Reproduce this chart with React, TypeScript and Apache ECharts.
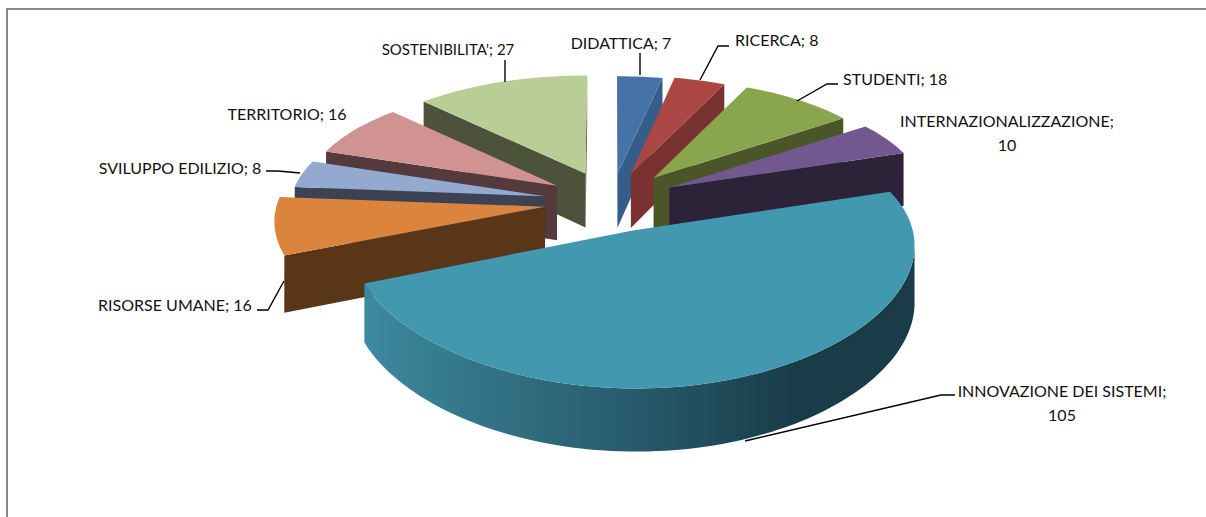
import React, { useEffect, useRef } from "react";
import * as echarts from "echarts";

const categories = ["DIDATTICA", "RICERCA", "STUDENTI", "INTERNAZIONALIZZAZIONE", "INNOVAZIONE DEI SISTEMI", "RISORSE UMANE", "SVILUPPO EDILIZIO", "TERRITORIO", "SOSTENIBILITA'"];
const values = [7, 8, 18, 10, 105, 16, 8, 16, 27];
const topColors = ["#4572A7", "#AA4643", "#89A54E", "#71588F", "#4198AF", "#DB843D", "#93A9CF", "#D19392", "#B9CD96"];
const wallColors = ["#365D87", "#7A3230", "#4A5528", "#2D2338", "#1A3C49", "#5A3618", "#3A4254", "#553A3D", "#4D533A"];
const explode = [0.2, 0.2, 0.2, 0.2, 0.3, 0.2, 0.2, 0.2, 0.2];
const drawOrder = [8, 0, 1, 2, 3, 7, 6, 5, 4];

// per-slice adjustment of the projected shape: [x scale about the apex, x shift, y shift]
const sliceFit = [
  [0.92, 8, 2], [0.91, 10, 1], [0.918, 15, 1], [0.947, 17, 3], [1, 0, 0],
  [0.985, -5, 8], [0.935, -6, 6], [0.935, -1, 3], [0.92, 2, 0],
];

type Label = { lines: string[]; x: number; y: number; align: string; size?: number; leader?: number[][] };
const labels: Label[] = [
  { lines: ["DIDATTICA; 7"], x: 621, y: 42, align: "center", leader: [[640, 53], [640, 75]] },
  { lines: ["RICERCA; 8"], x: 735, y: 39, align: "left", leader: [[729, 46], [718, 46], [700, 80]] },
  { lines: ["STUDENTI; 18"], x: 843, y: 78, align: "left", leader: [[838, 84], [827, 84], [797, 101]] },
  { lines: ["INTERNAZIONALIZZAZIONE;", "10"], x: 1007, y: 120, align: "center" },
  { lines: ["INNOVAZIONE DEI SISTEMI;", "105"], x: 1062, y: 390, align: "center", leader: [[955, 395], [941, 395], [745, 441]] },
  { lines: ["RISORSE UMANE; 16"], x: 175, y: 304, align: "center", leader: [[257, 310], [268, 310], [284, 281]] },
  { lines: ["SVILUPPO EDILIZIO; 8"], x: 180, y: 167, align: "center", leader: [[266, 171], [278, 171], [300, 173]] },
  { lines: ["TERRITORIO; 16"], x: 287, y: 113, align: "center" },
  { lines: ["SOSTENIBILITA'; 27"], x: 448, y: 49, align: "center", size: 15, leader: [[505, 60], [505, 82]] },
];

const CX = 604, CY = 245, S = 272, T = 128, H = 50, PX = 0.1, PY = 0.16, WALL = 55, PW = 0.1;
const BIG_SLICE = 4;
const total = values.reduce((a, b) => a + b, 0);
const starts: number[] = [];
values.reduce((acc, v, i) => { starts[i] = acc; return acc + v; }, 0);

function project(x: number, y: number, z: number) {
  return [CX + (S * x) / (1 + PX * y), CY - (T * y + H) / (1 + PY * y) + ((1 - z) * WALL) / (1 + PW * y)];
}

function renderSlice(params: any, api: any) {
  const i = api.value(1) as number;
  const a0 = (starts[i] / total) * Math.PI * 2;
  const a1 = ((starts[i] + values[i]) / total) * Math.PI * 2;
  const mid = (a0 + a1) / 2;
  const ox = explode[i] * Math.sin(mid), oy = explode[i] * Math.cos(mid);
  const n = Math.max(6, Math.ceil((a1 - a0) / 0.03));
  const [kx, dx, dy] = sliceFit[i];
  const rawApexX = project(ox, oy, 1)[0];
  const fit = (p: number[]) => [rawApexX + kx * (p[0] - rawApexX) + dx, p[1] + dy];
  const at = (a: number, z: number) => fit(project(ox + Math.sin(a), oy + Math.cos(a), z));
  const apexT = fit(project(ox, oy, 1)), apexB = fit(project(ox, oy, 0));
  const children: any[] = [];
  const wallFill: any = {
    type: "linear", x: 0, y: 0, x2: 1, y2: 0, colorStops: [
      { offset: 0, color: "#3D8A9F" }, { offset: 0.2, color: "#337587" },
      { offset: 0.5, color: "#275A6C" }, { offset: 0.78, color: "#193C49" }, { offset: 1, color: "#1A3C49" } ],
  };

  const startT = at(a0, 1), startB = at(a0, 0), endT = at(a1, 1), endB = at(a1, 0);
  if (startT[0] < apexT[0]) children.push({ type: "polygon", silent: true, shape: { points: [apexT, startT, startB, apexB] }, style: { fill: wallColors[i] } });
  if (endT[0] > apexT[0]) children.push({ type: "polygon", silent: true, shape: { points: [apexT, endT, endB, apexB] }, style: { fill: wallColors[i] } });

  const upper: number[][] = [], lower: number[][] = [], top: number[][] = [apexT];
  for (let k = 0; k <= n; k++) {
    const a = a0 + ((a1 - a0) * k) / n;
    const t = at(a, 1);
    top.push(t);
    if (k < n && at(a + (a1 - a0) / n, 1)[0] < t[0] + 0.001 || (k === n && at(a - (a1 - a0) / n, 1)[0] > t[0])) {
      upper.push(t);
      lower.unshift(at(a, 0));
    }
  }
  if (i === BIG_SLICE && upper.length > 1) children.push({ type: "polygon", silent: true, shape: { points: [...upper, ...lower] }, style: { fill: wallFill } });
  children.push({ type: "polygon", silent: true, shape: { points: top }, style: { fill: topColors[i] } });

  const lab = labels[i];
  if (lab.leader) children.push({ type: "polyline", silent: true, z2: 50, shape: { points: lab.leader }, style: { fill: "none", stroke: "#000", lineWidth: 1.4 } });
  lab.lines.forEach((line, j) => children.push({
    type: "text", silent: true, z2: 60,
    style: { text: line, x: lab.x, y: lab.y + j * 24, fill: "#111", font: `${lab.size ?? 16}px Lato`, textAlign: lab.align, textVerticalAlign: "middle" },
  }));
  return { type: "group", children };
}

export default function App() {
  const ref = useRef<HTMLDivElement>(null);
  useEffect(() => {
    const chart = echarts.init(ref.current!, undefined, { renderer: "svg" });
    chart.setOption({
      animation: false,
      backgroundColor: "#fff",
      graphic: [
        { type: "line", silent: true, shape: { x1: 7, y1: 8, x2: 7, y2: 517 }, style: { stroke: "#868686", lineWidth: 2 } },
        { type: "line", silent: true, shape: { x1: 6, y1: 9, x2: 1206, y2: 9 }, style: { stroke: "#868686", lineWidth: 2 } },
      ],
      series: [{
        type: "custom",
        coordinateSystem: "none",
        renderItem: renderSlice,
        data: drawOrder.map((i) => ({ name: categories[i], value: [values[i], i] })),
      }],
    });
    return () => chart.dispose();
  }, []);
  return <div ref={ref} style={{ position: "absolute", left: 0, top: 0, width: 1206, height: 517 }} />;
}
